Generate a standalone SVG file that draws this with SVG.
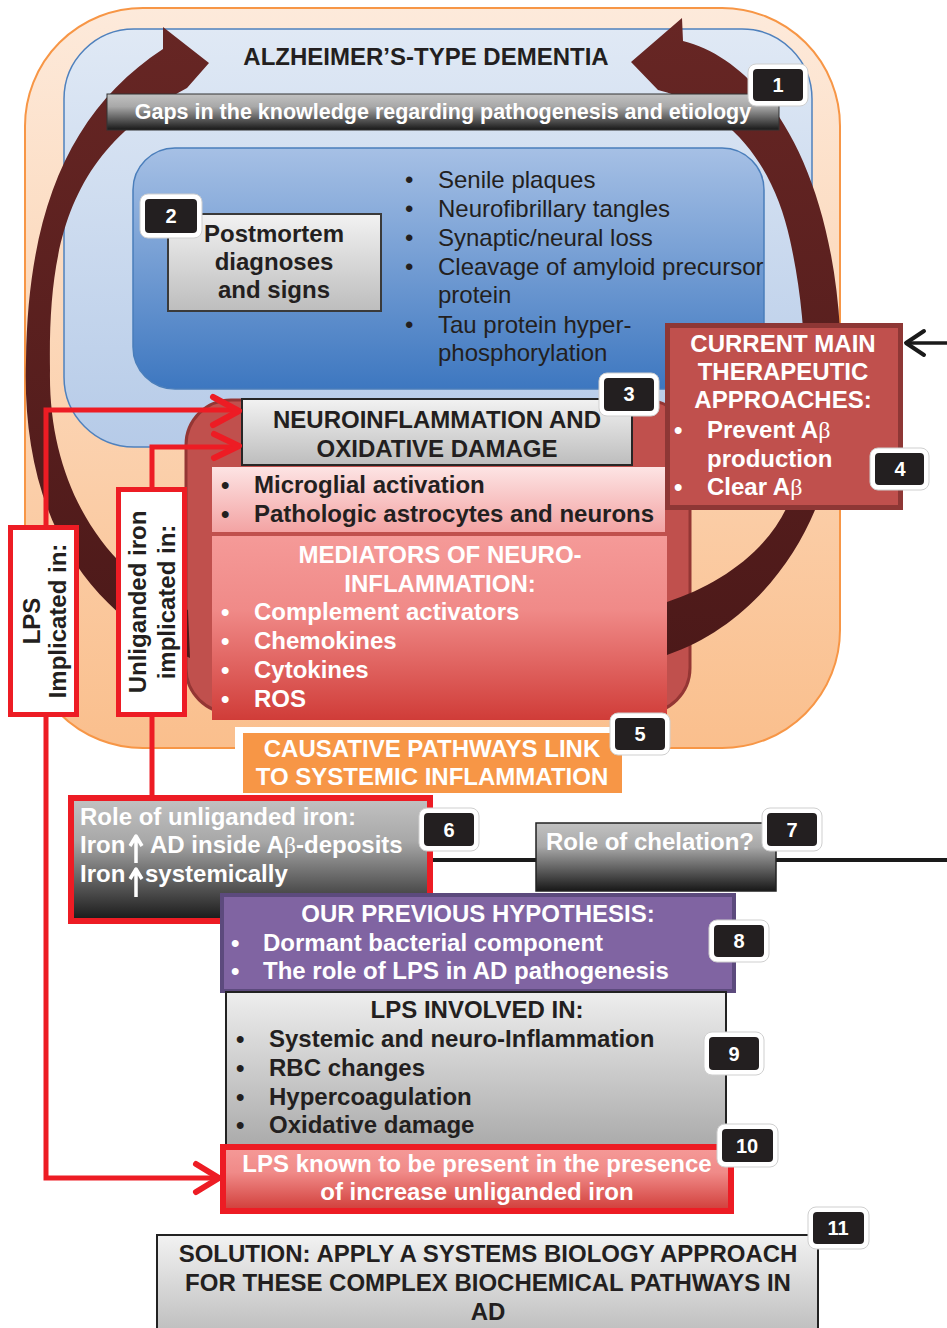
<svg xmlns="http://www.w3.org/2000/svg" width="947" height="1328" viewBox="0 0 947 1328">
<defs>
<linearGradient id="gOrange" x1="0" y1="0" x2="0" y2="1"><stop offset="0" stop-color="#fdeadb"/><stop offset="1" stop-color="#fabf8d"/></linearGradient>
<linearGradient id="gLBlue" x1="0" y1="0" x2="0" y2="1"><stop offset="0" stop-color="#e0e9f5"/><stop offset="1" stop-color="#b6cbe8"/></linearGradient>
<linearGradient id="gDBlue" x1="0" y1="0" x2="0" y2="1"><stop offset="0" stop-color="#a6c0e5"/><stop offset="1" stop-color="#3d77c0"/></linearGradient>
<linearGradient id="gGrayL" x1="0" y1="0" x2="0" y2="1"><stop offset="0" stop-color="#f2f2f2"/><stop offset="1" stop-color="#bdbdbd"/></linearGradient>
<linearGradient id="gGrayS" x1="0" y1="0" x2="0" y2="1"><stop offset="0" stop-color="#eeeeee"/><stop offset="1" stop-color="#a8a8a8"/></linearGradient>
<linearGradient id="gGrayD" x1="0" y1="0" x2="0" y2="1"><stop offset="0" stop-color="#c2c2c2"/><stop offset="0.35" stop-color="#a8a8a8"/><stop offset="1" stop-color="#181818"/></linearGradient>
<linearGradient id="gPink" x1="0" y1="0" x2="0" y2="1"><stop offset="0" stop-color="#fde4e4"/><stop offset="1" stop-color="#f3a3a3"/></linearGradient>
<linearGradient id="gRed" x1="0" y1="0" x2="0" y2="1"><stop offset="0" stop-color="#f59a98"/><stop offset="0.4" stop-color="#f08a88"/><stop offset="1" stop-color="#d03c38"/></linearGradient>
<linearGradient id="gArc" gradientUnits="userSpaceOnUse" x1="0" y1="20" x2="0" y2="660"><stop offset="0" stop-color="#672624"/><stop offset="1" stop-color="#4c1919"/></linearGradient>
<style>
text{font-family:"Liberation Sans",Arial,sans-serif;font-size:24px}
.b{font-weight:bold}
.w{fill:#ffffff}
.k{fill:#231f20}
.c{text-anchor:middle}
.sym{font-family:"Liberation Serif","Times New Roman",serif;font-weight:normal}
.bo{fill:#ffffff;stroke:#cfcfcf;stroke-width:1}
.bi{fill:#231f20}
.bn{font-size:20px;font-weight:bold;fill:#ffffff;text-anchor:middle}
.red{fill:none;stroke:#ed1c24;stroke-width:5}
.chev{fill:none;stroke:#ed1c24;stroke-width:6;stroke-linecap:round;stroke-linejoin:round}
</style>
</defs>

<g id="container-outer"><rect x="25" y="8" width="815" height="740" rx="118" fill="url(#gOrange)" stroke="#f79646" stroke-width="2"/></g>
<g id="container-ad"><rect x="64" y="29" width="748" height="418" rx="70" fill="url(#gLBlue)" stroke="#4f81bd" stroke-width="1.5"/></g>
<g id="container-post"><rect x="133" y="148" width="631" height="241" rx="42" fill="url(#gDBlue)" stroke="#4a7ebb" stroke-width="1.5"/></g>
<g id="container-neuro"><rect x="186" y="400" width="504" height="313" rx="45" fill="#c0504d" stroke="#943634" stroke-width="3"/></g>

<g id="connectors">
<path d="M163,27 L209,63 L187,88 C70,150 48,240 50,370 C48,480 100,570 188,610 L190,658 C60,600 22,480 26,360 C28,210 70,110 163,49 Z" fill="url(#gArc)"/>
<path d="M682,18 L683,41 C760,60 830,160 840,330 C845,420 830,480 815,510 C790,570 740,630 667,655 L667,602 C720,585 770,550 790,500 C810,430 810,330 790,240 C775,170 735,110 658,90 L631,62 Z" fill="url(#gArc)"/>
</g>

<g id="title"><text class="b k c" x="426" y="65">ALZHEIMER’S-TYPE DEMENTIA</text></g>
<g id="gaps"><rect x="107" y="94" width="672" height="36" fill="url(#gGrayD)" stroke="#333" stroke-width="1"/><text class="b w c" x="443" y="119" style="font-size:21.5px">Gaps in the knowledge regarding pathogenesis and etiology</text></g>
<g id="badge1"><rect class="bo" x="748" y="64" width="60" height="42" rx="8"/><rect class="bi" x="753" y="69" width="50" height="32" rx="4"/><text class="bn" x="778" y="92">1</text></g>

<g id="postmortem"><rect x="168" y="214" width="213" height="97" fill="url(#gGrayL)" stroke="#3a3a3a" stroke-width="2"/>
<text class="b k c" x="274" y="242">Postmortem</text><text class="b k c" x="274" y="270">diagnoses</text><text class="b k c" x="274" y="298">and signs</text></g>
<g id="badge2"><rect class="bo" x="140" y="194" width="62" height="44" rx="8"/><rect class="bi" x="145" y="199" width="52" height="34" rx="4"/><text class="bn" x="171" y="223">2</text></g>
<g id="signs">
<text class="k" x="405" y="188">•</text><text class="k" x="438" y="188">Senile plaques</text>
<text class="k" x="405" y="217">•</text><text class="k" x="438" y="217">Neurofibrillary tangles</text>
<text class="k" x="405" y="246">•</text><text class="k" x="438" y="246">Synaptic/neural loss</text>
<text class="k" x="405" y="275">•</text><text class="k" x="438" y="275">Cleavage of amyloid precursor</text>
<text class="k" x="438" y="303">protein</text>
<text class="k" x="405" y="333">•</text><text class="k" x="438" y="333">Tau protein hyper-</text>
<text class="k" x="438" y="361">phosphorylation</text>
</g>

<g id="current"><rect x="667.5" y="325.5" width="233" height="182" fill="#c0504d" stroke="#8e3735" stroke-width="5"/>
<text class="b w c" x="783" y="352">CURRENT MAIN</text><text class="b w c" x="783" y="380">THERAPEUTIC</text><text class="b w c" x="783" y="408">APPROACHES:</text>
<text class="b w" x="674" y="438">•</text><text class="b w" x="707" y="438">Prevent A<tspan class="sym">β</tspan></text>
<text class="b w" x="707" y="467">production</text>
<text class="b w" x="674" y="495">•</text><text class="b w" x="707" y="495">Clear A<tspan class="sym">β</tspan></text>
<path d="M947,343 H908" stroke="#1a1a1a" stroke-width="3.5" fill="none"/><path d="M924,331 L906,343 L924,355" stroke="#1a1a1a" stroke-width="4" fill="none" stroke-linecap="round" stroke-linejoin="round"/>
</g>
<g id="badge4"><rect class="bo" x="870" y="448" width="59" height="42" rx="8"/><rect class="bi" x="875" y="453" width="49" height="32" rx="4"/><text class="bn" x="900" y="476">4</text></g>

<g id="neuro"><rect x="242" y="399" width="390" height="66" fill="url(#gGrayL)" stroke="#262626" stroke-width="2"/>
<text class="b k c" x="437" y="428">NEUROINFLAMMATION AND</text><text class="b k c" x="437" y="457">OXIDATIVE DAMAGE</text></g>
<g id="badge3"><rect class="bo" x="599" y="373" width="60" height="43" rx="8"/><rect class="bi" x="604" y="378" width="50" height="33" rx="4"/><text class="bn" x="629" y="401">3</text></g>
<g id="glia"><rect x="212" y="467" width="453" height="65" fill="url(#gPink)"/>
<text class="b k" x="221" y="493">•</text><text class="b k" x="254" y="493">Microglial activation</text>
<text class="b k" x="221" y="522">•</text><text class="b k" x="254" y="522">Pathologic astrocytes and neurons</text></g>
<g id="mediators"><rect x="212" y="536" width="455" height="184" fill="url(#gRed)"/>
<text class="b w c" x="440" y="563">MEDIATORS OF NEURO-</text><text class="b w c" x="440" y="592">INFLAMMATION:</text>
<text class="b w" x="221" y="620">•</text><text class="b w" x="254" y="620">Complement activators</text>
<text class="b w" x="221" y="649">•</text><text class="b w" x="254" y="649">Chemokines</text>
<text class="b w" x="221" y="678">•</text><text class="b w" x="254" y="678">Cytokines</text>
<text class="b w" x="221" y="707">•</text><text class="b w" x="254" y="707">ROS</text></g>

<g id="causative"><rect x="235" y="727" width="393" height="72" fill="#ffffff"/><rect x="243" y="733" width="379" height="60" fill="#f79646"/>
<text class="b w c" x="432" y="757">CAUSATIVE PATHWAYS LINK</text><text class="b w c" x="432" y="785">TO SYSTEMIC INFLAMMATION</text></g>
<g id="badge5"><rect class="bo" x="610" y="713" width="60" height="42" rx="8"/><rect class="bi" x="615" y="718" width="50" height="32" rx="4"/><text class="bn" x="640" y="741">5</text></g>

<g id="red-links">
<path class="red" d="M46,527 V410 H234"/><path class="chev" d="M213,397 L239,411 L213,425"/>
<path class="red" d="M152,489 V447 H234"/><path class="chev" d="M214,434 L239,446 L214,458"/>
<path class="red" d="M46,717 V1178 H214"/><path class="chev" d="M196,1164 L219,1178 L196,1192"/>
<path class="red" d="M152,717 V797"/>
</g>
<g id="lps-label"><rect x="10.5" y="527.5" width="66" height="187" fill="#ffffff" stroke="#ed1c24" stroke-width="5"/>
<text class="b k c" transform="translate(40,621) rotate(-90)">LPS</text><text class="b k c" transform="translate(66,621) rotate(-90)">Implicated in:</text></g>
<g id="iron-label"><rect x="118.5" y="489.5" width="66" height="225" fill="#ffffff" stroke="#ed1c24" stroke-width="5"/>
<text class="b k c" transform="translate(146,602) rotate(-90)">Unliganded iron</text><text class="b k c" transform="translate(175,602) rotate(-90)">implicated in:</text></g>

<g id="chelation-line"><path d="M433,860 H947" stroke="#1a1a1a" stroke-width="4" fill="none"/></g>
<g id="iron-role"><rect x="71" y="798" width="359" height="123" fill="url(#gGrayD)" stroke="#ed1c24" stroke-width="6"/>
<text class="b w" x="80" y="825">Role of unliganded iron:</text>
<text class="b w" x="80" y="853">Iron</text><text class="b w" x="150" y="853">AD inside A<tspan class="sym">β</tspan>-deposits</text>
<text class="b w" x="80" y="882">Iron</text><text class="b w" x="145" y="882">systemically</text>
<path d="M136,863 V838 M130,846 L136,836 L142,846" stroke="#ffffff" stroke-width="3.5" fill="none" stroke-linejoin="round"/>
<path d="M136,897 V871 M130,879 L136,869 L142,879" stroke="#ffffff" stroke-width="3.5" fill="none" stroke-linejoin="round"/>
</g>
<g id="badge6"><rect class="bo" x="419" y="808" width="60" height="43" rx="8"/><rect class="bi" x="424" y="813" width="50" height="33" rx="4"/><text class="bn" x="449" y="837">6</text></g>
<g id="chelation"><rect x="536" y="823" width="240" height="68" fill="url(#gGrayD)" stroke="#222" stroke-width="1.5"/>
<text class="b w" x="546" y="850">Role of chelation?</text></g>
<g id="badge7"><rect class="bo" x="762" y="808" width="60" height="43" rx="8"/><rect class="bi" x="767" y="813" width="50" height="33" rx="4"/><text class="bn" x="792" y="837">7</text></g>

<g id="hypothesis"><rect x="222" y="895" width="512" height="96" fill="#8064a2" stroke="#5c4a7d" stroke-width="4"/>
<text class="b w c" x="478" y="922">OUR PREVIOUS HYPOTHESIS:</text>
<text class="b w" x="231" y="951">•</text><text class="b w" x="263" y="951">Dormant bacterial component</text>
<text class="b w" x="231" y="979">•</text><text class="b w" x="263" y="979">The role of LPS in AD pathogenesis</text></g>
<g id="badge8"><rect class="bo" x="709" y="920" width="60" height="42" rx="8"/><rect class="bi" x="714" y="925" width="50" height="32" rx="4"/><text class="bn" x="739" y="948">8</text></g>

<g id="lps-involved"><rect x="226" y="992" width="500" height="160" fill="url(#gGrayS)" stroke="#222" stroke-width="2"/>
<text class="b k c" x="477" y="1018">LPS INVOLVED IN:</text>
<text class="b k" x="236" y="1047">•</text><text class="b k" x="269" y="1047">Systemic and neuro-Inflammation</text>
<text class="b k" x="236" y="1076">•</text><text class="b k" x="269" y="1076">RBC changes</text>
<text class="b k" x="236" y="1105">•</text><text class="b k" x="269" y="1105">Hypercoagulation</text>
<text class="b k" x="236" y="1133">•</text><text class="b k" x="269" y="1133">Oxidative damage</text></g>
<g id="badge9"><rect class="bo" x="704" y="1032" width="60" height="43" rx="8"/><rect class="bi" x="709" y="1037" width="50" height="33" rx="4"/><text class="bn" x="734" y="1061">9</text></g>

<g id="lps-known"><rect x="223" y="1147" width="508" height="64" fill="url(#gRed)" stroke="#ed1c24" stroke-width="6"/>
<text class="b w c" x="477" y="1172">LPS known to be present in the presence</text><text class="b w c" x="477" y="1200">of increase unliganded iron</text></g>
<g id="badge10"><rect class="bo" x="717" y="1124" width="61" height="43" rx="8"/><rect class="bi" x="722" y="1129" width="51" height="33" rx="4"/><text class="bn" x="747" y="1153">10</text></g>

<g id="solution"><rect x="157" y="1235" width="661" height="100" fill="url(#gGrayL)" stroke="#222" stroke-width="2"/>
<text class="b k c" x="488" y="1262">SOLUTION: APPLY A SYSTEMS BIOLOGY APPROACH</text>
<text class="b k c" x="488" y="1291">FOR THESE COMPLEX BIOCHEMICAL PATHWAYS IN</text>
<text class="b k c" x="488" y="1320">AD</text></g>
<g id="badge11"><rect class="bo" x="808" y="1207" width="61" height="42" rx="8"/><rect class="bi" x="813" y="1212" width="51" height="32" rx="4"/><text class="bn" x="838" y="1235">11</text></g>
</svg>
